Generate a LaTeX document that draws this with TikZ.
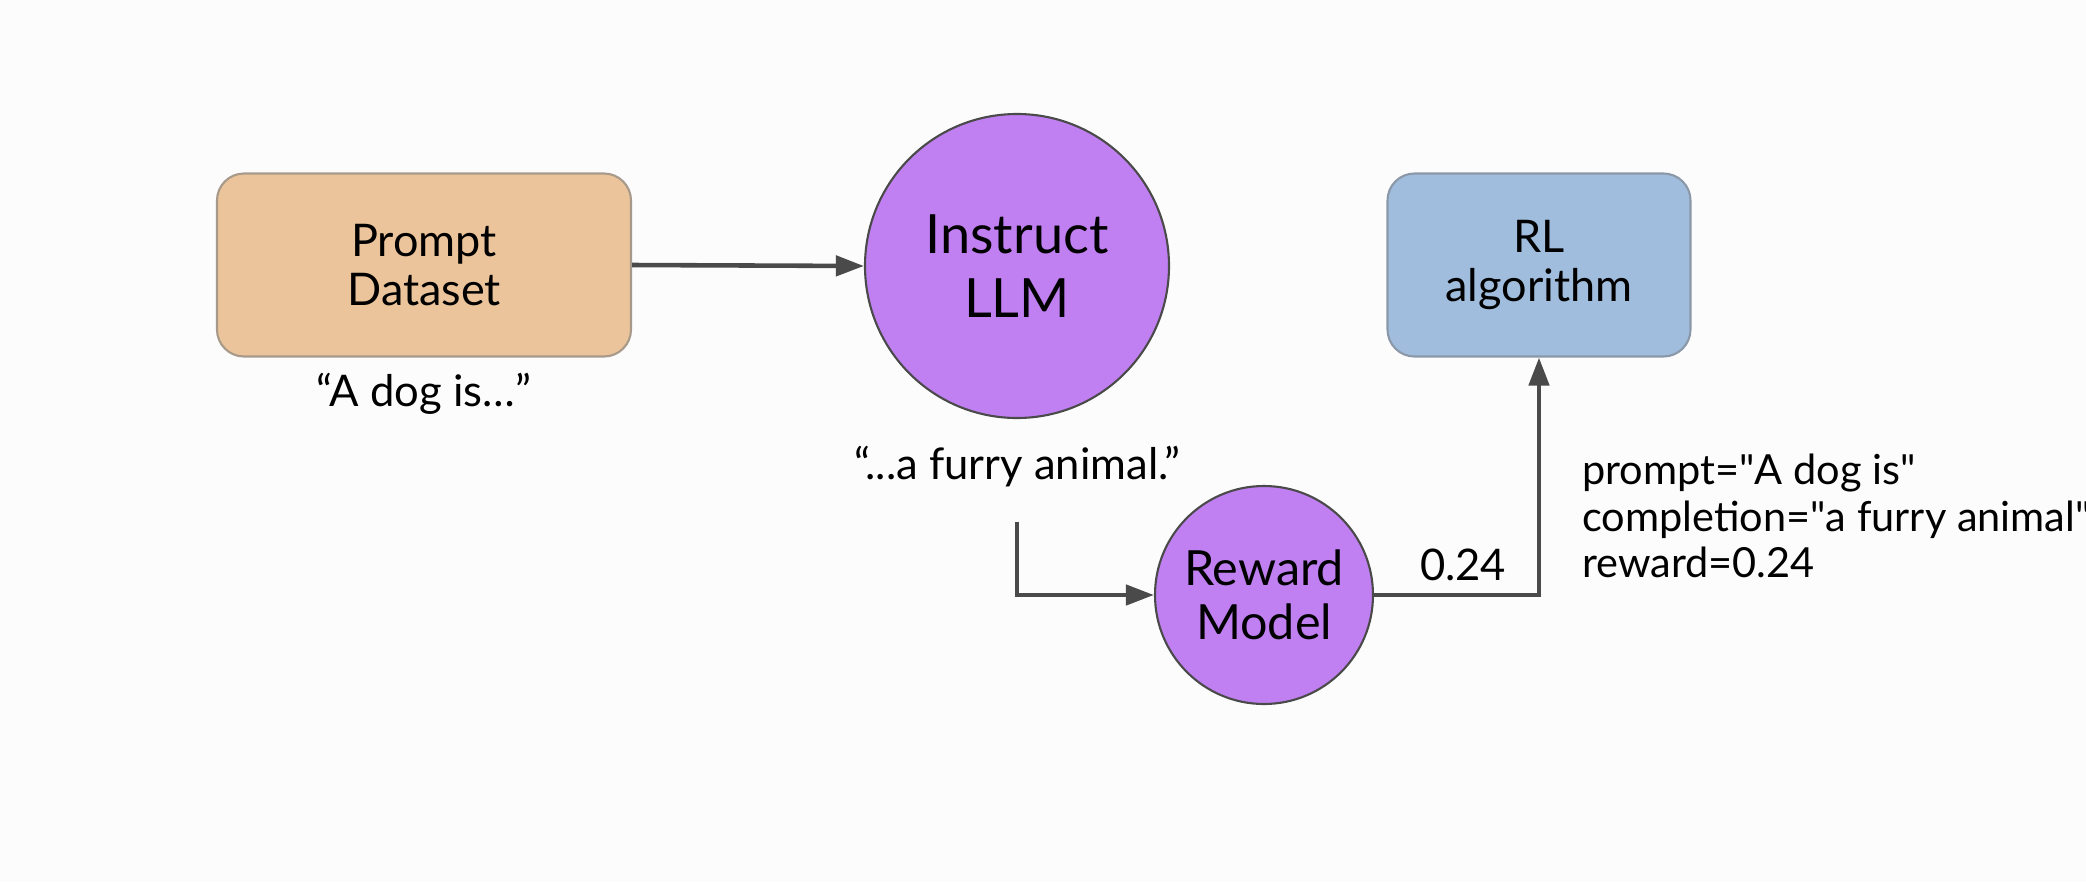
\documentclass[tikz,border=0pt]{standalone}
\usepackage{fontspec}
\setmainfont{Lato}
\usepackage{xcolor}
\usepackage{tikz}
\usetikzlibrary{arrows.meta, positioning, shapes.geometric}

\definecolor{promptfill}{HTML}{EBC49B}
\definecolor{promptdraw}{HTML}{A89A8A}
\definecolor{rlfill}{HTML}{A0BDDD}
\definecolor{rldraw}{HTML}{8A98A8}
\definecolor{llmfill}{HTML}{C080F2}
\definecolor{edgegray}{HTML}{4A4A4A}
\definecolor{bggray}{HTML}{FCFCFC}

\newcommand{\dq}{\textquotedbl}

\begin{document}
\begin{tikzpicture}[node distance=0.2cm,
	box/.style={draw, rounded corners=0.27cm, line width=0.6pt, align=center, font=\fontsize{12.8}{14}\selectfont},
	model/.style={circle, draw=edgegray, line width=0.6pt, fill=llmfill, align=center},
	note/.style={align=center, font=\fontsize{12.4}{14}\selectfont},
	edge/.style={draw=edgegray, line width=1.3pt, -{Triangle[length=0.28cm, width=0.2cm]}}]
	
	\fill[bggray] (0,0) rectangle (20.86,8.82);
	\useasboundingbox (0,0) rectangle (20.86,8.82);
	
	\node (prompt) [box, fill=promptfill, draw=promptdraw, minimum width=4.14cm, minimum height=1.83cm] at (4.24,6.17) {Prompt\\Dataset};
	\node (dog) [note, below=0.03cm of prompt] {“A dog is…”};
	\node (llm) [model, minimum size=3.04cm, font=\fontsize{15.4}{18.2}\selectfont] at (10.17,6.16) {Instruct\\LLM};
	\node (furry) [note, below=0.15cm of llm] {“...a furry animal.”};
	\node (reward) [model, minimum size=2.18cm, font=\fontsize{13.8}{15.2}\selectfont] at (12.64,2.87) {Reward\\Model};
	\node (rl) [box, fill=rlfill, draw=rldraw, minimum width=3.03cm, minimum height=1.83cm] at (15.39,6.17) {RL\\algorithm};
	\node (sample) [note, align=left, anchor=west, font=\fontsize{11.8}{13.3}\selectfont] at (15.70,3.66) {prompt=\dq A dog is\dq\\completion=\dq a furry animal\dq\\reward=0.24};
	
	% Edges
	\draw[edge] (prompt.east) -- (llm.west);
	\draw[edge, shorten <=0.22cm] (furry.south) |- (reward.west);
	\draw[edge] (reward.east) -| node[note, above, pos=0.27] (score) {0.24} (rl.south);
	
\end{tikzpicture}
\end{document}
